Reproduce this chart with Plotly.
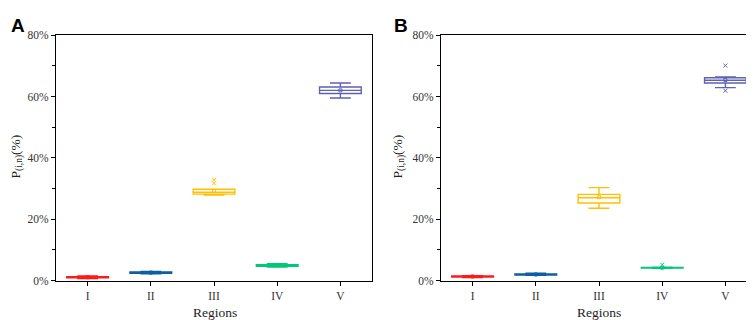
import plotly.graph_objects as go

regions = ["I", "II", "III", "IV", "V"]
colors = ["#FF1A1A", "#0E5FA0", "#FFC000", "#00C878", "#5F62B2"]

# Panel A (values in %)
A_low = [0.7, 2.2, 27.9, 4.4, 59.5]
A_q1 = [0.9, 2.4, 28.2, 4.7, 61.0]
A_median = [1.1, 2.6, 28.8, 5.0, 62.0]
A_q3 = [1.3, 2.8, 29.8, 5.2, 63.1]
A_high = [1.5, 3.0, 29.8, 5.5, 64.4]
A_mean = [1.1, 2.6, 29.2, 5.0, 62.0]
A_out_x = ["III", "III"]
A_out_y = [31.7, 32.9]

# Panel B (values in %)
B_low = [1.0, 1.7, 23.6, 4.0, 62.9]
B_q1 = [1.2, 1.8, 25.3, 4.1, 64.4]
B_median = [1.35, 2.0, 27.0, 4.2, 65.3]
B_q3 = [1.5, 2.2, 28.1, 4.3, 66.1]
B_high = [1.6, 2.4, 30.3, 4.4, 66.4]
B_mean = [1.35, 2.0, 27.2, 4.2, 65.4]
B_out_x = ["IV", "V", "V"]
B_out_y = [5.2, 70.1, 61.9]

yticks = [0, 20, 40, 60, 80]
yticklabels = ["0%", "20%", "40%", "60%", "80%"]

fig = go.Figure()

def add_panel(low, q1, med, q3, high, mean, ox, oy, xa, ya):
    for i, r in enumerate(regions):
        fig.add_trace(go.Box(
            x=[r], q1=[q1[i]], median=[med[i]], q3=[q3[i]],
            lowerfence=[low[i]], upperfence=[high[i]],
            width=0.66, whiskerwidth=0.5,
            line=dict(color=colors[i], width=1.4),
            fillcolor="rgba(255,255,255,0)",
            xaxis=xa, yaxis=ya, showlegend=False, hoverinfo="skip",
        ))
        fig.add_trace(go.Scatter(
            x=[r], y=[mean[i]], mode="markers",
            marker=dict(symbol="square-open", size=3, color=colors[i], line=dict(width=1)),
            xaxis=xa, yaxis=ya, showlegend=False, hoverinfo="skip",
        ))
    ocol = [colors[regions.index(v)] for v in ox]
    fig.add_trace(go.Scatter(
        x=ox, y=oy, mode="markers",
        marker=dict(symbol="x-thin-open", size=4, color=ocol, line=dict(width=1, color=ocol)),
        xaxis=xa, yaxis=ya, showlegend=False, hoverinfo="skip",
    ))

add_panel(A_low, A_q1, A_median, A_q3, A_high, A_mean, A_out_x, A_out_y, "x", "y")
add_panel(B_low, B_q1, B_median, B_q3, B_high, B_mean, B_out_x, B_out_y, "x2", "y2")

W, H = 754, 320
tickfont = dict(family="Liberation Serif", size=11.5, color="#333")

def xaxis(d0, d1, anchor):
    return dict(domain=[d0 / W, d1 / W], anchor=anchor, type="category",
                categoryorder="array", categoryarray=regions, range=[-0.5, 4.5],
                showline=True, linecolor="black", linewidth=1.3, mirror=True,
                ticks="outside", ticklen=4, tickcolor="black", showgrid=False,
                zeroline=False, tickfont=tickfont, fixedrange=True)

def yaxis(anchor):
    return dict(domain=[(H - 277) / H, (H - 22) / H], anchor=anchor, range=[0, 80],
                tickmode="array", tickvals=yticks, ticktext=yticklabels,
                showline=True, linecolor="black",
                linewidth=1.3, mirror=True, ticks="outside", ticklen=4, tickcolor="black",
                minor=dict(dtick=10, ticks="outside", ticklen=2.5, tickcolor="black"),
                showgrid=False, zeroline=False, tickfont=tickfont, fixedrange=True)

fig.update_layout(
    width=W, height=H, margin=dict(l=0, r=0, t=0, b=0),
    paper_bgcolor="white", plot_bgcolor="white",
    xaxis=xaxis(48, 364, "y"), yaxis=yaxis("x"),
    xaxis2=xaxis(433, 749, "y2"), yaxis2=yaxis("x2"),
)

titlefont = dict(family="Liberation Serif", size=13.5, color="#222")
for cx, lx in [(207, 9), (591, 391)]:
    fig.add_annotation(x=cx / W, y=(H - 310) / H, xref="paper", yref="paper",
                       text="Regions", showarrow=False, font=titlefont,
                       xanchor="center", yanchor="middle")
    fig.add_annotation(x=lx / W, y=(H - 148) / H, xref="paper", yref="paper",
                       text="P<sub>(i,n)</sub>(%)", showarrow=False, font=titlefont,
                       textangle=-90, xanchor="center", yanchor="middle")
for px, lab in [(10, "A"), (393, "B")]:
    fig.add_annotation(x=px / W, y=(H - 12) / H, xref="paper", yref="paper",
                       text="<b>%s</b>" % lab, showarrow=False,
                       font=dict(family="Liberation Sans", size=19, color="black"),
                       xanchor="center", yanchor="middle")

fig.write_html("out.html")
